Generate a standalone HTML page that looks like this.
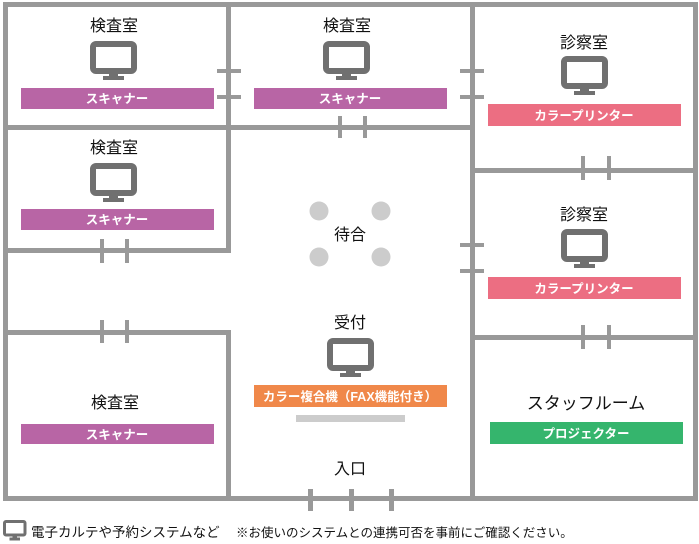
<!DOCTYPE html>
<html><head><meta charset="utf-8"><style>
html,body{margin:0;padding:0;background:#fff;}
svg{display:block;}
text{font-family:"Liberation Sans","Noto Sans CJK JP",sans-serif;}
.t{font-size:16px;fill:#111;text-anchor:middle;}
.b{font-size:12.5px;fill:#fff;text-anchor:middle;font-weight:bold;}
</style></head><body>
<svg width="699" height="544" viewBox="0 0 699 544">
<defs>
<g id="mon">
<rect x="3" y="3" width="41" height="27" rx="3" fill="none" stroke="#707070" stroke-width="6"/>
<rect x="19" y="32" width="9" height="4" fill="#707070"/>
<rect x="13" y="35" width="21" height="4" fill="#707070"/>
</g>
</defs>
<g fill="#999">
<rect x="3" y="2" width="695" height="5"/>
<rect x="3" y="2" width="5" height="499"/>
<rect x="693" y="2" width="5" height="499"/>
<rect x="3" y="496" width="695" height="5"/>
<rect x="226" y="2" width="5" height="251"/>
<rect x="3" y="125" width="472" height="5"/>
<rect x="3" y="248" width="228" height="5"/>
<rect x="3" y="330" width="228" height="5"/>
<rect x="226" y="330" width="5" height="171"/>
<rect x="470" y="2" width="5" height="499"/>
<rect x="470" y="168" width="228" height="5"/>
<rect x="470" y="335" width="228" height="5"/>
<rect x="217" y="69" width="24" height="4"/><rect x="217" y="95" width="24" height="4"/>
<rect x="338" y="116" width="4" height="22"/><rect x="363" y="116" width="4" height="22"/>
<rect x="100" y="239" width="4" height="24"/><rect x="125" y="239" width="4" height="24"/>
<rect x="100" y="320" width="4" height="23"/><rect x="125" y="320" width="4" height="23"/>
<rect x="460" y="69" width="24" height="4"/><rect x="460" y="95" width="24" height="4"/>
<rect x="460" y="243" width="24" height="4"/><rect x="460" y="269" width="24" height="4"/>
<rect x="581" y="156" width="4" height="24"/><rect x="607" y="156" width="4" height="24"/>
<rect x="581" y="325" width="4" height="24"/><rect x="607" y="325" width="4" height="24"/>
<rect x="308" y="489" width="5" height="22"/><rect x="349" y="489" width="5" height="22"/><rect x="389" y="489" width="5" height="22"/>
</g>
<g fill="#ccc">
<circle cx="319" cy="211" r="9.5"/><circle cx="381" cy="211" r="9.5"/>
<circle cx="319" cy="257" r="9.5"/><circle cx="381" cy="257" r="9.5"/>
<rect x="296" y="415" width="109" height="7"/>
</g>
<text class="t" x="350" y="240">待合</text>
<text class="t" x="114" y="31">検査室</text>
<use href="#mon" x="90" y="41"/>
<rect x="21" y="88" width="193" height="21" fill="#b865a5"/>
<text class="b" x="117" y="103">スキャナー</text>
<text class="t" x="347" y="31">検査室</text>
<use href="#mon" x="323" y="41"/>
<rect x="254" y="88" width="193" height="21" fill="#b865a5"/>
<text class="b" x="350" y="103">スキャナー</text>
<text class="t" x="114" y="153">検査室</text>
<use href="#mon" x="90" y="163"/>
<rect x="21" y="209" width="193" height="21" fill="#b865a5"/>
<text class="b" x="117" y="224">スキャナー</text>
<text class="t" x="115" y="408">検査室</text>
<rect x="21" y="424" width="193" height="20" fill="#b865a5"/>
<text class="b" x="117" y="439">スキャナー</text>
<text class="t" x="584" y="48">診察室</text>
<use href="#mon" x="561" y="56"/>
<rect x="488" y="104" width="193" height="22" fill="#ec6e82"/>
<text class="b" x="584" y="120">カラープリンター</text>
<text class="t" x="584" y="220">診察室</text>
<use href="#mon" x="561" y="229"/>
<rect x="488" y="277" width="193" height="22" fill="#ec6e82"/>
<text class="b" x="584" y="293">カラープリンター</text>
<text class="t" x="586" y="409" style="font-size:17px">スタッフルーム</text>
<rect x="490" y="422" width="193" height="22" fill="#35b56d"/>
<text class="b" x="586" y="438">プロジェクター</text>
<text class="t" x="350" y="328">受付</text>
<use href="#mon" x="327" y="338"/>
<rect x="254" y="385" width="193" height="22" fill="#f0884a"/>
<text class="b" x="350" y="401">カラー複合機（FAX機能付き）</text>
<text class="t" x="350" y="474">入口</text>
<g transform="translate(3,520) scale(0.5)">
<rect x="3" y="3" width="41" height="27" rx="3" fill="none" stroke="#707070" stroke-width="6"/>
<rect x="19" y="32" width="9" height="4" fill="#707070"/>
<rect x="13" y="35" width="21" height="6" fill="#707070"/>
</g>
<text x="31" y="537" style="font-size:13.5px;fill:#111">電子カルテや予約システムなど</text>
<text x="236" y="537" style="font-size:12.5px;fill:#111">※お使いのシステムとの連携可否を事前にご確認ください。</text>
</svg>
</body></html>
